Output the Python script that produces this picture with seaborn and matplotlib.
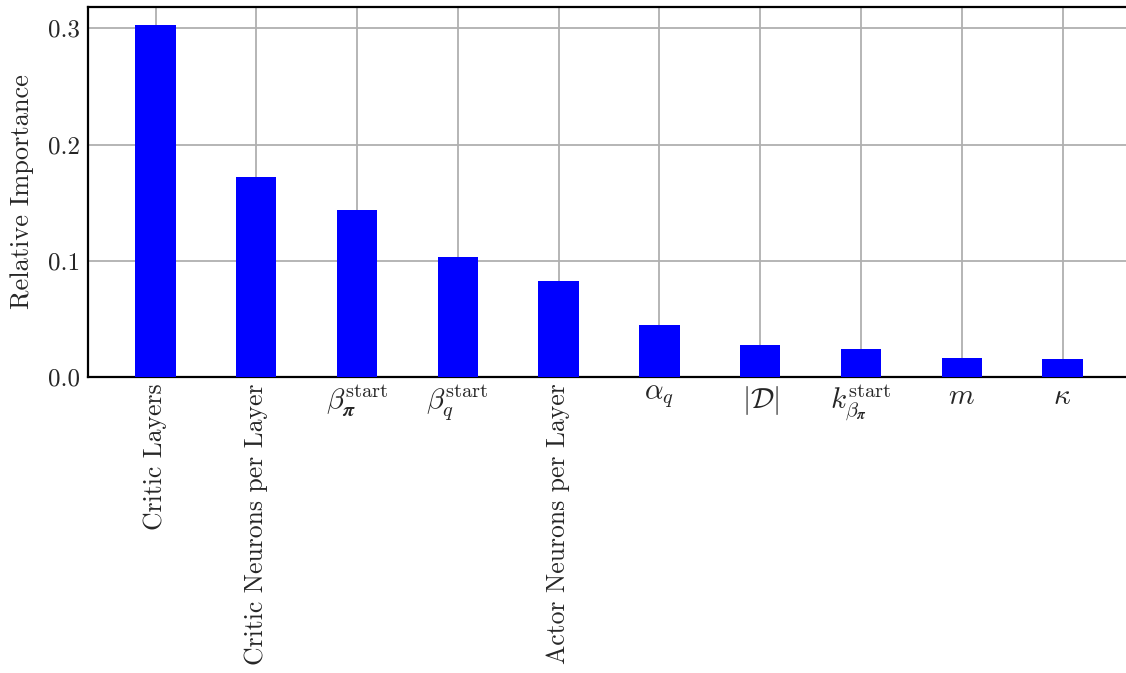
import matplotlib
matplotlib.use("Agg")
import matplotlib.pyplot as plt
import seaborn as sns
import pandas as pd

# Hyperparameter names (plain text or mathtext) and their relative importance
params = [
    "Critic Layers",
    "Critic Neurons per Layer",
    r"$\beta_{\boldsymbol{\pi}}^{\mathrm{start}}$",
    r"$\beta_{q}^{\mathrm{start}}$",
    "Actor Neurons per Layer",
    r"$\alpha_q$",
    r"$|\mathcal{D}|$",
    r"$k_{\beta_{\boldsymbol{\pi}}}^{\mathrm{start}}$",
    r"$m$",
    r"$\kappa$",
]
importance = [0.3033, 0.1719, 0.1435, 0.1031, 0.0824, 0.0445, 0.0273, 0.0238, 0.0161, 0.0152]
y_ticks = [0.0, 0.1, 0.2, 0.3]

sns.set_style("white")
plt.rcParams.update({
    "font.family": "serif",
    "font.serif": ["cmr10"],
    "mathtext.fontset": "cm",
    "axes.formatter.use_mathtext": True,
    "axes.unicode_minus": False,
})

df = pd.DataFrame({"param": params, "importance": importance})

W, H = 1126, 673
fig = plt.figure(figsize=(W / 100, H / 100), dpi=100)
ax = fig.add_axes([88 / W, (H - 376.7) / H, (W - 88) / W, (376.7 - 7) / H])

sns.barplot(data=df, x="param", y="importance", color="#0000ff", saturation=1,
            width=0.4, linewidth=0, ax=ax, zorder=3)

ax.set_xlim(-0.67, 9.63)
ax.set_ylim(0, max(importance) * 1.05)
ax.set_yticks(y_ticks)
ax.set_yticklabels([f"{v:.1f}" for v in y_ticks])

ax.grid(True, color="#b0b0b0", linewidth=1.3, zorder=0)
ax.set_axisbelow(True)

ax.set_xlabel("")
ax.set_ylabel("Relative Importance", fontsize=19, labelpad=10)

ax.tick_params(axis="y", direction="in", length=8, width=1.3, labelsize=18, pad=6)
ax.tick_params(axis="x", length=0, labelsize=18.5, pad=5)

for lbl in ax.get_xticklabels():
    if lbl.get_text().startswith("$"):
        lbl.set_rotation(0)
        lbl.set_fontsize(21)
    else:
        lbl.set_rotation(90)
    lbl.set_ha("center")
    lbl.set_va("top")

for side in ("left", "top", "bottom"):
    ax.spines[side].set_visible(True)
    ax.spines[side].set_color("black")
    ax.spines[side].set_linewidth(1.6)
ax.spines["right"].set_visible(False)

fig.savefig("out.png", dpi=100)
